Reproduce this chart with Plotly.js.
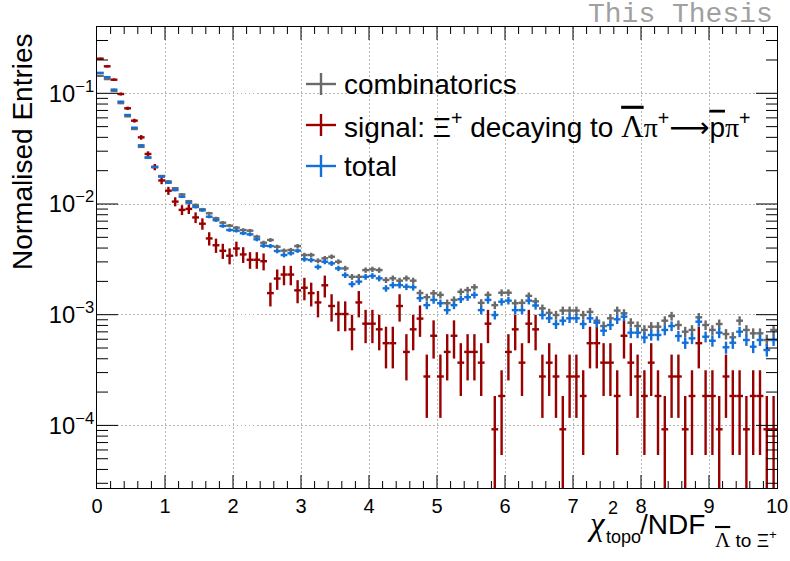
<!DOCTYPE html>
<html>
<head>
<meta charset="utf-8">
<script src="https://cdn.plot.ly/plotly-3.0.1.min.js"></script>
<style>
  html, body { margin: 0; padding: 0; background: #ffffff; }
  #chart { width: 790px; height: 561px; }
</style>
</head>
<body>
<div id="chart"></div>
<script>
// ---- Data ----
const binLow = 0;
const binHigh = 10;
const nBins = 100;

// combinatorics (normalised entries per bin)
const combinatorics = [
  0.144, 0.1345, 0.105, 0.0815, 0.062, 0.0476, 0.0328, 0.0261, 0.0216, 0.0179,
  0.0160, 0.0139, 0.0122, 0.0106, 0.0098, 0.00896, 0.00824, 0.00743, 0.00678, 0.00637,
  0.00611, 0.00582, 0.00574, 0.00507, 0.00447, 0.00473, 0.00411, 0.00379, 0.00384, 0.00417,
  0.00346, 0.00346, 0.00307, 0.00323, 0.00334, 0.00301, 0.00262, 0.00220, 0.00220, 0.00253,
  0.00257, 0.00253, 0.00206, 0.00213, 0.00203, 0.00213, 0.00203, 0.00157, 0.00144, 0.00156,
  0.00151, 0.00127, 0.00136, 0.00161, 0.00167, 0.00177, 0.00128, 0.00151, 0.00122, 0.00158,
  0.00158, 0.00127, 0.00128, 0.00148, 0.00132, 0.00114, 0.00104, 0.000994, 0.00109, 0.00109,
  0.00109, 0.000994, 0.00106, 0.000883, 0.00079, 0.000928, 0.00109, 0.00103, 0.000847, 0.00079,
  0.000728, 0.000779, 0.000779, 0.000883, 0.000973, 0.000807, 0.000702, 0.000728, 0.000947, 0.000807,
  0.000728, 0.000824, 0.000669, 0.000625, 0.000883, 0.000728, 0.000679, 0.000679, 0.000591, 0.000728
];

// total (normalised entries per bin)
const total = [
  0.153, 0.140, 0.108, 0.084, 0.0637, 0.0489, 0.0339, 0.0264, 0.0216, 0.01766,
  0.01557, 0.01336, 0.01164, 0.01028, 0.0094, 0.00877, 0.00768, 0.00714, 0.00633, 0.00582,
  0.00574, 0.00544, 0.00532, 0.0048, 0.0042, 0.00417, 0.00376, 0.00346, 0.00359, 0.00379,
  0.00317, 0.00312, 0.0027, 0.00301, 0.00291, 0.00262, 0.00228, 0.00189, 0.00199, 0.0022,
  0.00224, 0.00213, 0.00173, 0.00185, 0.00185, 0.00179, 0.00177, 0.00141, 0.00122, 0.00136,
  0.00127, 0.0011, 0.00122, 0.00138, 0.00144, 0.00151, 0.0011, 0.00136, 0.000994, 0.00131,
  0.00134, 0.0011, 0.0011, 0.00134, 0.00121, 0.000994, 0.000928, 0.000824, 0.000883, 0.000928,
  0.000928, 0.000824, 0.000928, 0.000847, 0.000717, 0.000807, 0.000909, 0.00096, 0.000688, 0.000688,
  0.000622, 0.000656, 0.000656, 0.000728, 0.00079, 0.000642, 0.000558, 0.000612, 0.000865, 0.000633,
  0.000582, 0.000688, 0.000508, 0.000558, 0.000702, 0.000591, 0.000514, 0.000591, 0.00048, 0.000591
];

// signal: raw entries per bin, and the normalisation weight of one entry
const signalCounts = [
  2228, 1901, 1439, 1069, 794, 614, 434, 307, 234, 177,
  143, 114, 96, 98, 82, 72, 53, 46, 41, 37,
  43, 38, 34, 34, 33, 17, 23, 25, 25, 18,
  19, 17, 14, 20, 13, 11, 11, 8, 14, 9,
  9, 8, 6, 6, 13, 5, 8, 10, 3, 7,
  3, 5, 7, 4, 5, 5, 4, 9, 1, 2,
  5, 8, 4, 9, 8, 3, 4, 3, 1, 3,
  3, 2, 6, 6, 4, 4, 2, 7, 4, 3,
  2, 4, 2, 1, 3, 3, 1, 2, 6, 2,
  2, 1, 3, 2, 2, 1, 2, 2, 1, 1
];
const signalWeight = 9.22e-5;
const bkgWeight = 8e-6;   // per-entry weight of combinatorics / total (sets error size)

const xTickVals = [0,1,2,3,4,5,6,7,8,9,10];
const yLogRange = [-4.5655, -0.401];

// ---- Derived ----
const binW = (binHigh - binLow) / nBins;
const centers = [];
for (let i = 0; i < nBins; i++) centers.push(binLow + (i + 0.5) * binW);
const signal = signalCounts.map(n => n * signalWeight);
const signalErr = signalCounts.map(n => Math.sqrt(n) * signalWeight);
const combErr = combinatorics.map(v => Math.sqrt(v * bkgWeight));
const totalErr = total.map(v => Math.sqrt(v * bkgWeight));

const cGray = '#6a6a6a';
const cRed = '#990000';
const cBlue = '#1470d6';

function histTrace(name, y, err, color) {
  return {
    type: 'scatter', mode: 'markers', name: name, x: centers, y: y,
    showlegend: false, hoverinfo: 'skip', cliponaxis: true,
    marker: { size: 2, color: color },
    error_x: { type: 'constant', value: binW / 2, width: 0, thickness: 2.4, color: color },
    error_y: { type: 'data', array: err, width: 0, thickness: 2.4, color: color }
  };
}

const data = [
  histTrace('combinatorics', combinatorics, combErr, cGray),
  histTrace('signal', signal, signalErr, cRed),
  histTrace('total', total, totalErr, cBlue)
];

// plot frame in pixels
const L = 97, R = 777, T = 27, B = 488;
const PW = R - L, PH = B - T;
const px = v => (v - L) / PW;
const py = v => (B - v) / PH;

const shapes = [];
// ROOT-style inside ticks on all four sides
const tickLine = { color: '#000000', width: 1 };
for (let i = 1; i < 50; i++) {
  const xv = (i * 0.2 - binLow) / (binHigh - binLow);
  const len = (i % 5 === 0 ? 13 : 7) / PH;
  shapes.push({ type: 'line', xref: 'paper', yref: 'paper', x0: xv, x1: xv, y0: 0, y1: len, line: tickLine });
  shapes.push({ type: 'line', xref: 'paper', yref: 'paper', x0: xv, x1: xv, y0: 1, y1: 1 - len, line: tickLine });
}
for (let d = -5; d <= -1; d++) {
  for (let m = 1; m <= 9; m++) {
    const lv = d + Math.log10(m);
    if (lv <= yLogRange[0] || lv >= yLogRange[1]) continue;
    const yv = (lv - yLogRange[0]) / (yLogRange[1] - yLogRange[0]);
    const len = (m === 1 ? 21 : 11) / PW;
    shapes.push({ type: 'line', xref: 'paper', yref: 'paper', x0: 0, x1: len, y0: yv, y1: yv, line: tickLine });
    shapes.push({ type: 'line', xref: 'paper', yref: 'paper', x0: 1, x1: 1 - len, y0: yv, y1: yv, line: tickLine });
  }
}

const legendRows = [
  { y: 84, color: cGray },
  { y: 125, color: cRed },
  { y: 166, color: cBlue }
];
legendRows.forEach(r => {
  shapes.push({ type: 'line', xref: 'paper', yref: 'paper', x0: px(306), x1: px(336), y0: py(r.y), y1: py(r.y), line: { color: r.color, width: 2.4 } });
  shapes.push({ type: 'line', xref: 'paper', yref: 'paper', x0: px(321), x1: px(321), y0: py(r.y - 11), y1: py(r.y + 11), line: { color: r.color, width: 2.4 } });
});

const serif = 'font-family:Liberation Serif';
const annotations = [
  { text: 'combinatorics', x: px(342), y: py(84), xanchor: 'left', yanchor: 'middle', font: { size: 28 } },
  { text: 'signal: Ξ<sup>+</sup> decaying to <span style="' + serif + ';font-size:31px;text-decoration:overline">Λ</span><span style="' + serif + '">π</span><sup>+</sup><span style="font-family:DejaVu Sans">⟶</span><span style="text-decoration:overline">p</span><span style="' + serif + '">π</span><sup>+</sup>',
    x: px(342), y: py(125), xanchor: 'left', yanchor: 'middle', font: { size: 28 } },
  { text: 'total', x: px(342), y: py(166), xanchor: 'left', yanchor: 'middle', font: { size: 28 } },
  { text: 'This Thesis', x: px(775), y: py(14), xanchor: 'right', yanchor: 'middle', font: { size: 28, family: 'Liberation Mono', color: '#a0a0a0' } },
  { text: 'Normalised Entries', textangle: -90, x: px(22), y: py(152), xanchor: 'center', yanchor: 'middle', font: { size: 28 } },
  { text: '<i>χ</i>', x: px(585), y: py(524), xanchor: 'left', yanchor: 'middle', font: { size: 33, family: 'Liberation Serif' } },
  { text: '2', x: px(606), y: py(508), xanchor: 'left', yanchor: 'middle', font: { size: 18 } },
  { text: 'topo', x: px(604), y: py(537), xanchor: 'left', yanchor: 'middle', font: { size: 18 } },
  { text: '/NDF', x: px(638), y: py(524), xanchor: 'left', yanchor: 'middle', font: { size: 28 } },
  { text: '<span style="' + serif + ';font-size:21px;text-decoration:overline">Λ</span> to Ξ<sup>+</sup>', x: px(713), y: py(539), xanchor: 'left', yanchor: 'middle', font: { size: 19 } }
].map(a => Object.assign({ xref: 'paper', yref: 'paper', showarrow: false }, a, { font: Object.assign({ family: 'Liberation Sans, Arial, sans-serif', color: '#000000' }, a.font) }));

const layout = {
  width: 790, height: 561,
  margin: { l: L, r: 790 - R, t: T, b: 561 - B, pad: 0 },
  paper_bgcolor: '#ffffff', plot_bgcolor: '#ffffff',
  font: { family: 'Liberation Sans, Arial, sans-serif', color: '#000000', size: 20 },
  showlegend: false,
  xaxis: {
    range: [binLow, binHigh], tickvals: xTickVals, ticktext: xTickVals.map(String),
    ticks: '', showline: true, linecolor: '#000', linewidth: 1, mirror: true,
    showgrid: true, gridcolor: '#b4b4b4', griddash: '1.5px,2.5px', gridwidth: 1,
    zeroline: false, tickfont: { size: 20 }
  },
  yaxis: {
    type: 'log', range: yLogRange, dtick: 1, exponentformat: 'power',
    ticks: '', showline: true, linecolor: '#000', linewidth: 1, mirror: true,
    showgrid: true, gridcolor: '#b4b4b4', griddash: '1.5px,2.5px', gridwidth: 1,
    zeroline: false, tickfont: { size: 19 }, ticklabelstandoff: -2
  },
  shapes: shapes,
  annotations: annotations
};

Plotly.newPlot('chart', data, layout, { displayModeBar: false, staticPlot: true });
</script>
</body>
</html>
